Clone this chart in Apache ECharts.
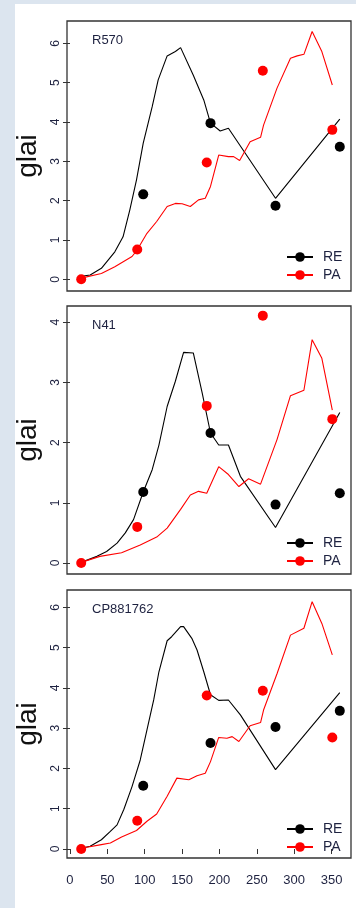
<!DOCTYPE html>
<html>
<head>
<meta charset="utf-8">
<script src="https://cdn.jsdelivr.net/npm/echarts@6/dist/echarts.min.js"></script>
<style>
  html, body { margin: 0; padding: 0; }
  body { width: 356px; height: 908px; background: #dce5ef; position: relative; overflow: hidden; }
  #chart { position: absolute; left: 15px; top: 4px; width: 341px; height: 904px; background: #fff; }
</style>
</head>
<body>
<div id="chart"></div>
<script>
// observation days (same for all cultivars)
const reObsDays = [98, 188, 275, 361];
const paObsDays = [15, 90, 183, 258, 351];

// R570
const r570ReLineDays = [13, 27, 42, 60, 71, 80, 89, 98, 110, 118, 130, 141, 148, 165, 179, 188, 201, 212, 275, 361];
const r570ReLine = [0.07, 0.11, 0.28, 0.70, 1.08, 1.76, 2.53, 3.46, 4.39, 5.07, 5.68, 5.79, 5.89, 5.19, 4.56, 3.97, 3.77, 3.84, 2.06, 4.07];
const r570PaLineDays = [15, 42, 60, 83, 90, 103, 116, 130, 141, 150, 161, 172, 181, 188, 199, 212, 219, 227, 241, 255, 259, 277, 295, 304, 313, 324, 337, 351];
const r570PaLine = [0.03, 0.15, 0.32, 0.58, 0.75, 1.17, 1.47, 1.85, 1.93, 1.92, 1.85, 2.02, 2.06, 2.36, 3.16, 3.12, 3.12, 3.02, 3.50, 3.61, 3.92, 4.86, 5.62, 5.68, 5.72, 6.30, 5.79, 4.94];
const r570ReObs = [2.16, 3.97, 1.87, 3.37];
const r570PaObs = [0, 0.76, 2.97, 5.30, 3.80];

// N41
const n41ReLineDays = [15, 36, 49, 63, 74, 85, 98, 110, 119, 130, 141, 152, 165, 177, 188, 199, 212, 228, 275, 361];
const n41ReLine = [0.01, 0.11, 0.19, 0.33, 0.50, 0.72, 1.18, 1.55, 1.96, 2.60, 3.02, 3.50, 3.49, 2.82, 2.16, 1.96, 1.96, 1.44, 0.59, 2.50];
const n41PaLineDays = [15, 40, 69, 94, 116, 130, 148, 161, 172, 183, 199, 212, 226, 239, 255, 277, 295, 313, 324, 337, 351];
const n41PaLine = [0.01, 0.11, 0.17, 0.30, 0.43, 0.58, 0.89, 1.13, 1.19, 1.16, 1.60, 1.47, 1.27, 1.40, 1.31, 2.05, 2.78, 2.87, 3.71, 3.40, 2.54];
const n41ReObs = [1.18, 2.16, 0.97, 1.16];
const n41PaObs = [0, 0.60, 2.61, 4.11, 2.39];

// CP881762
const cpReLineDays = [15, 27, 42, 54, 63, 72, 83, 94, 103, 112, 119, 130, 136, 148, 152, 163, 170, 179, 188, 199, 212, 228, 275, 361];
const cpReLine = [0.02, 0.07, 0.23, 0.44, 0.60, 0.98, 1.55, 2.21, 2.96, 3.70, 4.40, 5.17, 5.27, 5.52, 5.52, 5.23, 4.94, 4.40, 3.83, 3.69, 3.70, 3.33, 1.97, 3.88];
const cpPaLineDays = [15, 42, 54, 69, 89, 103, 116, 130, 143, 159, 170, 181, 188, 199, 210, 217, 226, 241, 255, 259, 277, 295, 313, 324, 337, 351];
const cpPaLine = [0.02, 0.11, 0.15, 0.30, 0.46, 0.69, 0.87, 1.31, 1.76, 1.72, 1.82, 1.88, 2.17, 2.77, 2.75, 2.79, 2.67, 3.06, 3.14, 3.45, 4.35, 5.31, 5.48, 6.14, 5.60, 4.82];
const cpReObs = [1.57, 2.63, 3.03, 3.43];
const cpPaObs = [0, 0.70, 3.81, 3.93, 2.77];

// tick labels
const xTicks = [0, 50, 100, 150, 200, 250, 300, 350];
const yTicks6 = [0, 1, 2, 3, 4, 5, 6];
const yTicks4 = [0, 1, 2, 3, 4];

const names = ['R570', 'N41', 'CP881762'];

const zip = (xs, ys) => xs.map((x, i) => [x, ys[i]]);

const panels = [
  { re: zip(r570ReLineDays, r570ReLine), pa: zip(r570PaLineDays, r570PaLine), reObs: zip(reObsDays, r570ReObs), paObs: zip(paObsDays, r570PaObs), yTicks: yTicks6, ymin: -0.297, ymax: 6.567, top: 17, h: 270, lg: 246 },
  { re: zip(n41ReLineDays, n41ReLine), pa: zip(n41PaLineDays, n41PaLine), reObs: zip(reObsDays, n41ReObs), paObs: zip(paObsDays, n41PaObs), yTicks: yTicks4, ymin: -0.183, ymax: 4.27, top: 302, h: 268, lg: 532 },
  { re: zip(cpReLineDays, cpReLine), pa: zip(cpPaLineDays, cpPaLine), reObs: zip(reObsDays, cpReObs), paObs: zip(paObsDays, cpPaObs), yTicks: yTicks6, ymin: -0.223, ymax: 6.43, top: 586, h: 268, lg: 818 }
];

const ink = '#333';
const txt = '#1e2240';

var myChart = echarts.init(document.getElementById('chart'));
var option = {
  animation: false,
  title: [], grid: [], xAxis: [], yAxis: [], series: [], legend: []
};

panels.forEach((p, i) => {
  option.title.push({
    text: names[i], left: 77, top: p.top + 13, padding: 0,
    textStyle: { fontSize: 13, fontWeight: 'normal', color: txt, fontFamily: 'Liberation Sans' }
  });
  option.grid.push({
    left: 52, top: p.top, width: 284, height: p.h,
    outerBoundsMode: 'none', containLabel: false,
    show: true, borderColor: ink, borderWidth: 1.3, backgroundColor: 'transparent'
  });
  const last = i === panels.length - 1;
  option.xAxis.push({
    type: 'value', gridIndex: i, min: -4, max: 376,
    splitLine: { show: false }, axisLine: { show: false },
    axisTick: { show: last, length: 5, lineStyle: { color: ink }, customValues: xTicks },
    axisLabel: { show: last, margin: 16, fontSize: 13, color: txt, fontFamily: 'Liberation Sans', customValues: xTicks }
  });
  option.yAxis.push({
    type: 'value', gridIndex: i, min: p.ymin, max: p.ymax,
    name: 'glai', nameLocation: 'middle', nameRotate: 90, nameGap: 25,
    nameTextStyle: { fontSize: 28, color: '#111', fontFamily: 'Liberation Sans' },
    splitLine: { show: false }, axisLine: { show: false },
    axisTick: { show: true, length: 7, lineStyle: { color: ink }, customValues: p.yTicks },
    axisLabel: { rotate: 90, margin: 5, fontSize: 12, color: txt, fontFamily: 'Liberation Sans', customValues: p.yTicks }
  });
  option.series.push(
    { name: 'RE', type: 'line', xAxisIndex: i, yAxisIndex: i, data: p.re, showSymbol: false, symbol: 'circle', symbolSize: 8,
      lineStyle: { color: '#000', width: 1.1 }, itemStyle: { color: '#000' } },
    { name: 'PA', type: 'line', xAxisIndex: i, yAxisIndex: i, data: p.pa, showSymbol: false, symbol: 'circle', symbolSize: 8,
      lineStyle: { color: '#ff0000', width: 1.1 }, itemStyle: { color: '#ff0000' } },
    { name: 'RE obs', type: 'scatter', xAxisIndex: i, yAxisIndex: i, data: p.reObs, symbol: 'circle', symbolSize: 10,
      itemStyle: { color: '#000', opacity: 1 }, z: 3 },
    { name: 'PA obs', type: 'scatter', xAxisIndex: i, yAxisIndex: i, data: p.paObs, symbol: 'circle', symbolSize: 10,
      itemStyle: { color: '#ff0000', opacity: 1 }, z: 3 }
  );
  option.legend.push({
    data: ['RE', 'PA'], orient: 'vertical', left: 271, top: p.lg, padding: 0,
    itemWidth: 26, itemHeight: 12, itemGap: 4, selectedMode: false,
    textStyle: { fontSize: 14, color: txt, fontFamily: 'Liberation Sans', padding: [0, 0, 0, 5] }
  });
});

option && myChart.setOption(option);
</script>
</body>
</html>
